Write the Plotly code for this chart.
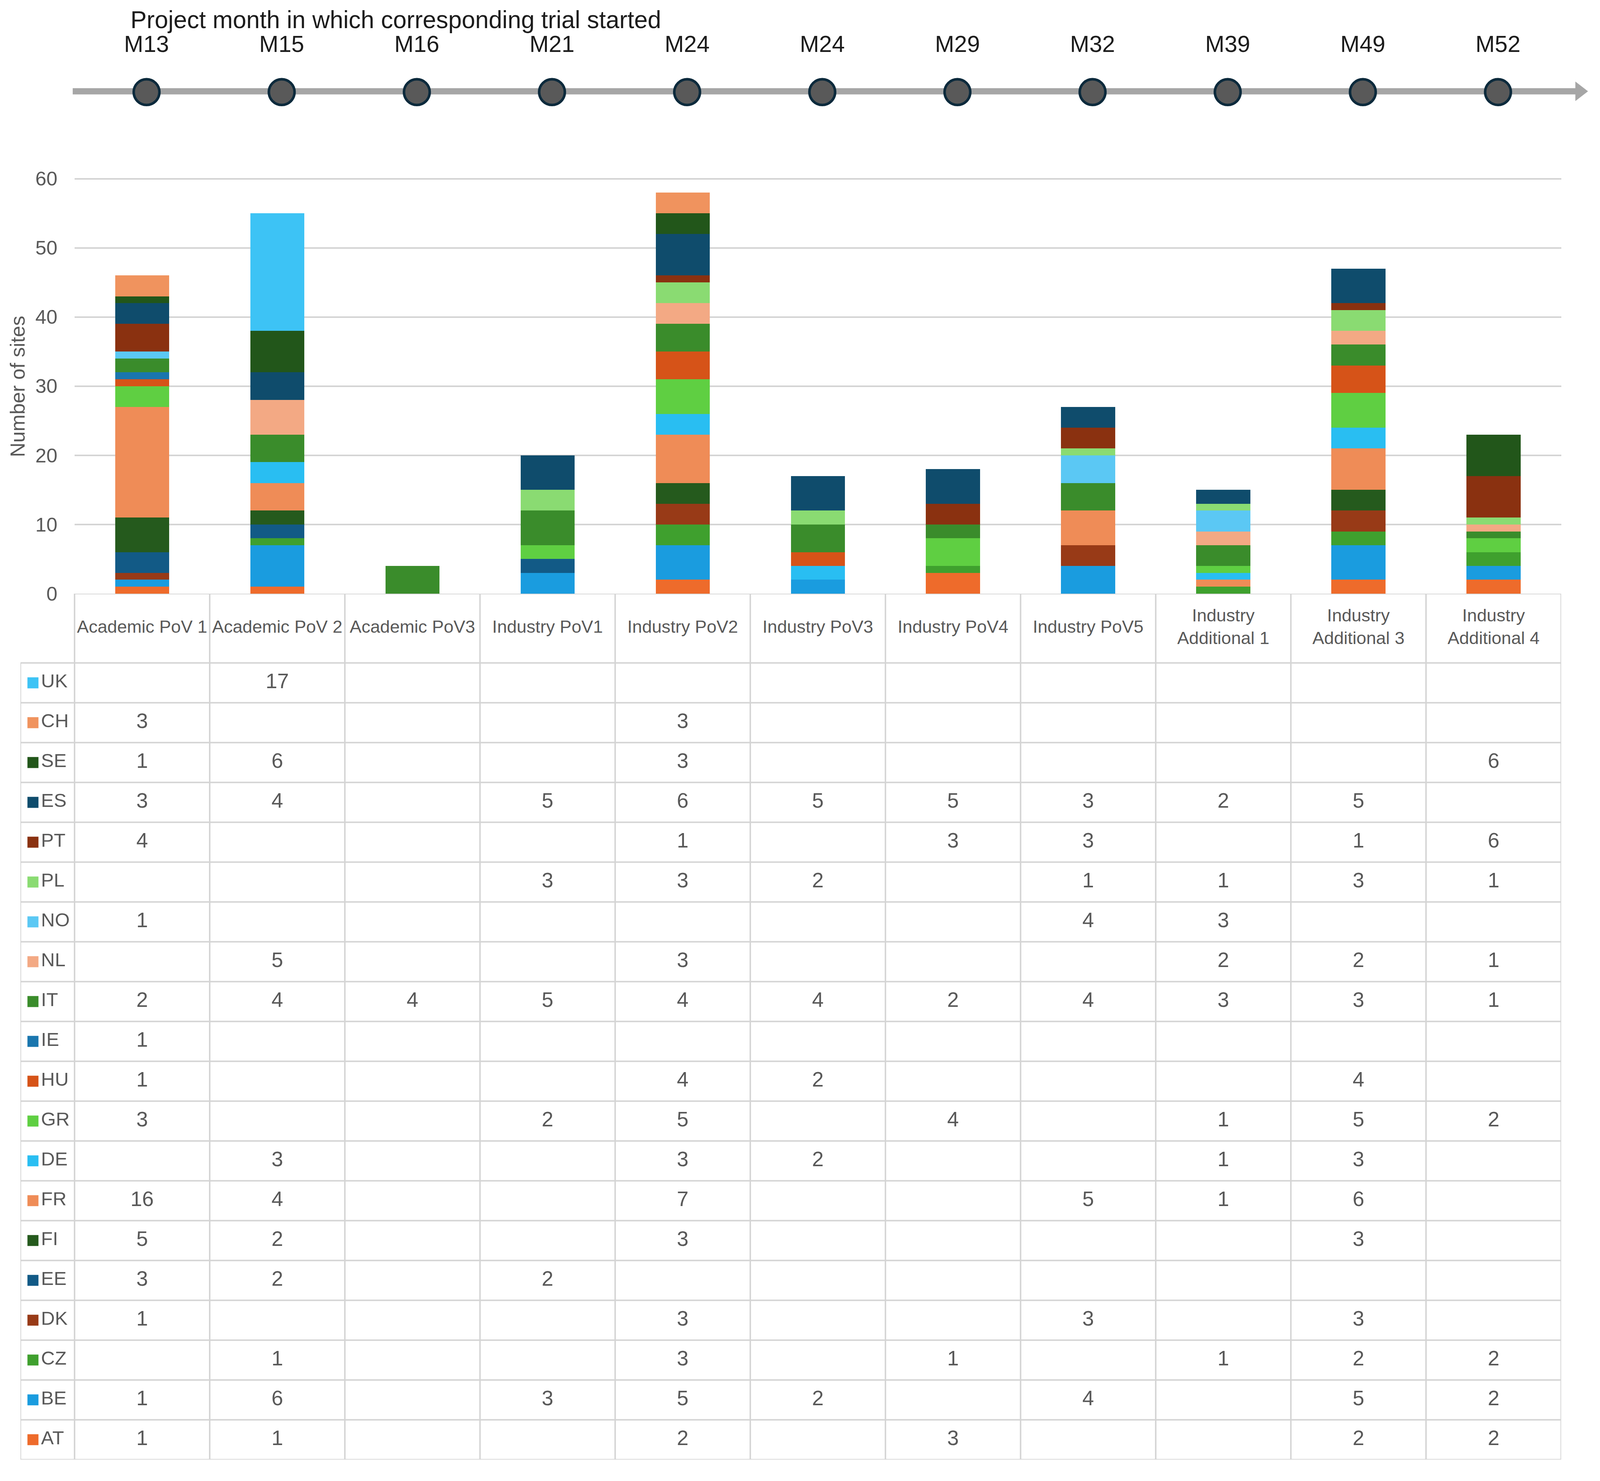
import plotly.graph_objects as go

# Datos: ensayos, mes de inicio y sitios por país
trials = ['Academic PoV 1', 'Academic PoV 2', 'Academic PoV3', 'Industry PoV1', 'Industry PoV2',
          'Industry PoV3', 'Industry PoV4', 'Industry PoV5', 'Industry Additional 1',
          'Industry Additional 3', 'Industry Additional 4']
months = ['M13', 'M15', 'M16', 'M21', 'M24', 'M24', 'M29', 'M32', 'M39', 'M49', 'M52']

AT = [1, 1, 0, 0, 2, 0, 3, 0, 0, 2, 2]
BE = [1, 6, 0, 3, 5, 2, 0, 4, 0, 5, 2]
CZ = [0, 1, 0, 0, 3, 0, 1, 0, 1, 2, 2]
DK = [1, 0, 0, 0, 3, 0, 0, 3, 0, 3, 0]
EE = [3, 2, 0, 2, 0, 0, 0, 0, 0, 0, 0]
FI = [5, 2, 0, 0, 3, 0, 0, 0, 0, 3, 0]
FR = [16, 4, 0, 0, 7, 0, 0, 5, 1, 6, 0]
DE = [0, 3, 0, 0, 3, 2, 0, 0, 1, 3, 0]
GR = [3, 0, 0, 2, 5, 0, 4, 0, 1, 5, 2]
HU = [1, 0, 0, 0, 4, 2, 0, 0, 0, 4, 0]
IE = [1, 0, 0, 0, 0, 0, 0, 0, 0, 0, 0]
IT = [2, 4, 4, 5, 4, 4, 2, 4, 3, 3, 1]
NL = [0, 5, 0, 0, 3, 0, 0, 0, 2, 2, 1]
NO = [1, 0, 0, 0, 0, 0, 0, 4, 3, 0, 0]
PL = [0, 0, 0, 3, 3, 2, 0, 1, 1, 3, 1]
PT = [4, 0, 0, 0, 1, 0, 3, 3, 0, 1, 6]
ES = [3, 4, 0, 5, 6, 5, 5, 3, 2, 5, 0]
SE = [1, 6, 0, 0, 3, 0, 0, 0, 0, 0, 6]
CH = [3, 0, 0, 0, 3, 0, 0, 0, 0, 0, 0]
UK = [0, 17, 0, 0, 0, 0, 0, 0, 0, 0, 0]

# orden de apilado (de abajo hacia arriba)
countries = ['AT', 'BE', 'CZ', 'DK', 'EE', 'FI', 'FR', 'DE', 'GR', 'HU',
             'IE', 'IT', 'NL', 'NO', 'PL', 'PT', 'ES', 'SE', 'CH', 'UK']
values = [AT, BE, CZ, DK, EE, FI, FR, DE, GR, HU, IE, IT, NL, NO, PL, PT, ES, SE, CH, UK]
colors = ['#EE6B2B', '#1A9CDF', '#3FA02E', '#983A17', '#125A86', '#255A1D', '#EF8C57', '#29BEF2',
          '#5FCF42', '#D65318', '#1A76AE', '#3A8C2B', '#F3A984', '#5BC8F4', '#8ADB72', '#8A3110',
          '#0F4C6C', '#22561A', '#F0935E', '#3DC3F5']

# Geometría en px de la imagen de referencia (se pasa a fracciones del papel)
W, H = 4328, 3792
F = 0.94  # px de referencia -> px CSS de la página
plot_l, plot_r = 194, 4231
leg_l = 47
col_w = (plot_r - plot_l) / len(trials)
zero_y, top60_y = 1524, 446
unit = (zero_y - top60_y) / 60
hdr_h, row_h = 180, 103.5
table_bottom = zero_y + hdr_h + len(countries) * row_h
tl_h = 300
shift = 12

font_fam = 'Liberation Sans, Arial, sans-serif'
grey_txt = '#595959'
line_col = '#d4d4d4'


def tl_x(p):
    # px -> coordenada del eje de la línea de tiempo
    return (p - plot_l - shift) / col_w - 0.5


fig = go.Figure()

# Barras apiladas
for c, v, col in zip(countries, values, colors):
    fig.add_trace(go.Bar(x=trials, y=v, name=c, marker=dict(color=col, line=dict(width=0)),
                         xaxis='x', yaxis='y'))

# Tabla de datos (filas de arriba hacia abajo: UK ... AT)
rows = countries[::-1]
row_vals = values[::-1]
row_cols = colors[::-1]
hdr_mid = -hdr_h / row_h / 2
fig.add_trace(go.Scatter(
    x=list(range(len(trials))), y=[hdr_mid] * len(trials),
    text=[t.replace('Industry Additional', 'Industry<br>Additional') for t in trials],
    mode='text', textfont=dict(family=font_fam, size=48 * F, color=grey_txt),
    xaxis='x2', yaxis='y2', hoverinfo='skip'))
cx, cy, ct = [], [], []
for i, v in enumerate(row_vals):
    for j, n in enumerate(v):
        if n:
            cx.append(j)
            cy.append(i + 0.5)
            ct.append(str(n))
fig.add_trace(go.Scatter(x=cx, y=cy, text=ct, mode='text',
                         textfont=dict(family=font_fam, size=57 * F, color=grey_txt),
                         xaxis='x2', yaxis='y2', hoverinfo='skip'))

x_min = -0.5 - (plot_l - leg_l) / col_w
ry = [i + 0.5 for i in range(len(rows))]
fig.add_trace(go.Scatter(x=[x_min + 34 / col_w] * len(rows), y=ry, mode='markers',
                         marker=dict(symbol='square', size=30 * F, color=row_cols),
                         xaxis='x2', yaxis='y2', hoverinfo='skip'))
fig.add_trace(go.Scatter(x=[x_min + 56 / col_w] * len(rows), y=ry, text=rows, mode='text',
                         textposition='middle right',
                         textfont=dict(family=font_fam, size=52 * F, color=grey_txt),
                         xaxis='x2', yaxis='y2', hoverinfo='skip'))

# Líneas de la tabla
lw = 4 * F
shapes = []
for k in range(len(rows) + 1):
    shapes.append(dict(type='line', xref='x2', yref='y2', x0=x_min, x1=len(trials) - 0.5,
                       y0=k, y1=k, line=dict(color=line_col, width=lw)))
shapes.append(dict(type='line', xref='x2', yref='y2', x0=-0.5, x1=len(trials) - 0.5,
                   y0=-hdr_h / row_h, y1=-hdr_h / row_h, line=dict(color=line_col, width=lw)))
for k in range(len(trials) + 1):
    shapes.append(dict(type='line', xref='x2', yref='y2', x0=k - 0.5, x1=k - 0.5,
                       y0=-hdr_h / row_h, y1=len(rows), line=dict(color=line_col, width=lw)))
shapes.append(dict(type='line', xref='x2', yref='y2', x0=x_min, x1=x_min,
                   y0=0, y1=len(rows), line=dict(color=line_col, width=lw)))

# Línea de tiempo
fig.add_trace(go.Scatter(x=[tl_x(189), tl_x(4272)], y=[219, 219], mode='lines',
                         line=dict(color='#A6A6A6', width=17 * F),
                         xaxis='x3', yaxis='y3', hoverinfo='skip'))
fig.add_trace(go.Scatter(x=[tl_x(4281)], y=[219], mode='markers',
                         marker=dict(symbol='triangle-right', size=46 * F, color='#A6A6A6'),
                         xaxis='x3', yaxis='y3', hoverinfo='skip'))
fig.add_trace(go.Scatter(x=list(range(len(months))), y=[221] * len(months), mode='markers',
                         marker=dict(size=70 * F, color='#595959',
                                     line=dict(color='#0C2A3C', width=7 * F)),
                         xaxis='x3', yaxis='y3', hoverinfo='skip'))
fig.add_trace(go.Scatter(x=list(range(len(months))), y=[102] * len(months), text=months,
                         mode='text', textfont=dict(family=font_fam, size=63 * F, color='#1c1c1c'),
                         xaxis='x3', yaxis='y3', hoverinfo='skip'))

fig.update_layout(
    autosize=True,
    margin=dict(l=0, r=0, t=0, b=0),
    paper_bgcolor='white', plot_bgcolor='white',
    barmode='stack', bargap=0.6,
    showlegend=False,
    shapes=shapes,
    xaxis=dict(domain=[plot_l / W, plot_r / W], showticklabels=False, showgrid=False,
               zeroline=False, showline=False, ticks=''),
    yaxis=dict(domain=[1 - zero_y / H, 1 - (zero_y - 61 * unit) / H], range=[0, 61],
               tickvals=[0, 10, 20, 30, 40, 50, 60], showgrid=True, gridcolor=line_col,
               gridwidth=lw, zeroline=False, ticks='', ticklabelstandoff=round(46 * F),
               tickfont=dict(family=font_fam, size=54 * F, color=grey_txt)),
    xaxis2=dict(domain=[leg_l / W, plot_r / W], range=[x_min, len(trials) - 0.5],
                anchor='y2', visible=False),
    yaxis2=dict(domain=[1 - table_bottom / H, 1 - zero_y / H],
                range=[len(rows), -hdr_h / row_h], anchor='x2', visible=False),
    xaxis3=dict(domain=[0, 1], range=[tl_x(0), tl_x(W)], anchor='y3', visible=False),
    yaxis3=dict(domain=[1 - tl_h / H, 1], range=[tl_h, 0], anchor='x3', visible=False),
    annotations=[
        dict(text='Project month in which corresponding trial started', x=344 / W, y=1 - 33 / H,
             xref='paper', yref='paper', xanchor='left', yanchor='middle', showarrow=False,
             font=dict(family=font_fam, size=66 * F, color='#1c1c1c')),
        dict(text='Number of sites', x=39 / W, y=1 - 986 / H, xref='paper', yref='paper',
             xanchor='center', yanchor='middle', textangle=-90, showarrow=False,
             font=dict(family=font_fam, size=55 * F, color=grey_txt)),
    ],
)

fig.write_html('out.html', default_width='100%', default_height='100%')
